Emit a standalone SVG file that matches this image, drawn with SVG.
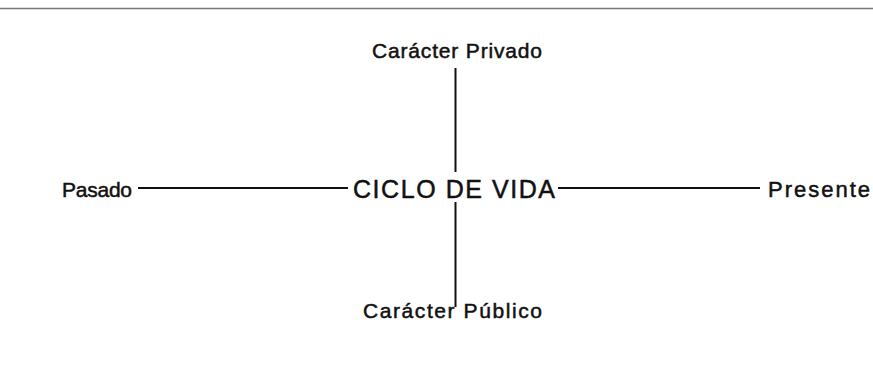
<svg xmlns="http://www.w3.org/2000/svg" width="873" height="378" viewBox="0 0 873 378">
<style>
text{font-family:"Liberation Sans",Arial,sans-serif;fill:#111;stroke:#111;stroke-width:0.5}
.c{stroke:#111;stroke-width:2;fill:none}
</style>
<rect width="873" height="378" fill="#fff"/>
<line x1="0" y1="8.5" x2="873" y2="8.5" stroke="#777" stroke-width="1.5"/>
<g id="connectors">
<line class="c" x1="455.5" y1="68" x2="455.5" y2="172"/>
<line class="c" x1="455.5" y1="202" x2="455.5" y2="307"/>
<line class="c" x1="138" y1="188" x2="348" y2="188"/>
<line class="c" x1="558" y1="188" x2="760" y2="188"/>
</g>
<g id="privado"><text x="372" y="58" font-size="21" textLength="170" lengthAdjust="spacing">Carácter Privado</text></g>
<g id="publico"><text x="363" y="318" font-size="21" textLength="179" lengthAdjust="spacing">Carácter Público</text></g>
<g id="pasado"><text x="62" y="197" font-size="21" textLength="70" lengthAdjust="spacing">Pasado</text></g>
<g id="ciclo"><text x="353" y="198" font-size="25" textLength="202" lengthAdjust="spacing" stroke-width="0.3">CICLO DE VIDA</text></g>
<g id="presente"><text x="768" y="197" font-size="22" textLength="102" lengthAdjust="spacing">Presente</text></g>
</svg>
